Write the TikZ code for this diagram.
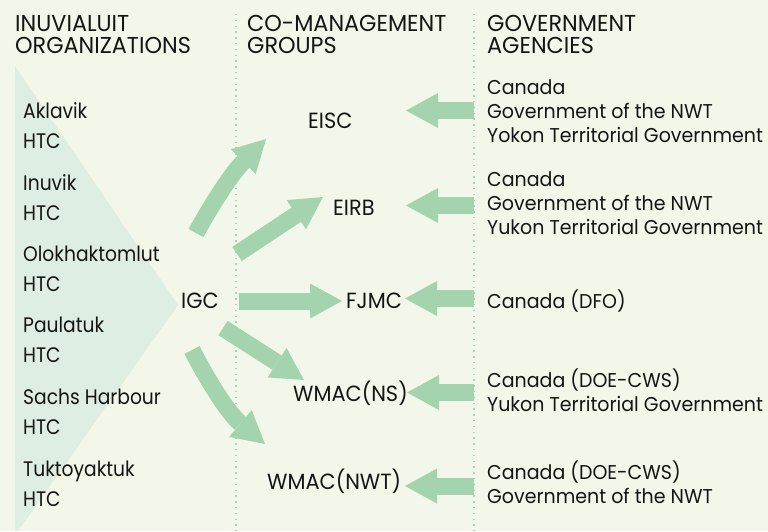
\documentclass[tikz,border=0pt]{standalone}
\usepackage{fontspec}
\setmainfont{Poppins}
\newfontfamily\hdfont[FakeStretch=0.97]{Poppins}
\newfontfamily\orgfont[FakeStretch=0.89]{Poppins}
\newfontfamily\grpfont[FakeStretch=0.95]{Poppins}
\newfontfamily\agyfont[FakeStretch=0.95]{Poppins}
\usetikzlibrary{arrows.meta}
\definecolor{bg}{HTML}{F3F7EA}
\definecolor{tri}{HTML}{DFEEE2}
\definecolor{arr}{HTML}{A3D4AF}
\definecolor{dotc}{HTML}{A8D5B5}
\definecolor{ink}{HTML}{151515}
\begin{document}
\begin{tikzpicture}[x=1pt,y=-1pt,
  hd/.style={font=\hdfont\fontsize{23}{21.5}\selectfont, anchor=base west, align=left, inner sep=0pt, text=ink},
  org/.style={font=\orgfont\fontsize{21}{30}\selectfont, anchor=base west, align=left, inner sep=0pt, text=ink},
  grp/.style={font=\grpfont\fontsize{22}{24}\selectfont, anchor=base west, align=left, inner sep=0pt, text=ink},
  agy/.style={font=\agyfont\fontsize{20}{24}\selectfont, anchor=base west, align=left, inner sep=0pt, text=ink},
  bigarrow/.style={draw=arr, line width=17pt, -{Triangle[width=35pt,length=32pt,line width=0pt]}},
  sep/.style={draw=dotc, line width=1.3pt, dash pattern=on 1.3pt off 4.5pt}
]
\useasboundingbox (0,0) rectangle (768,531);
\fill[bg] (0,0) rectangle (768,531);
% triangle
\fill[tri] (15,66) -- (178,305) -- (18,531) -- (15,531) -- cycle;
% separators
\coordinate (s1t) at (236,14); \coordinate (s1b) at (236,531);
\coordinate (s2t) at (474,14); \coordinate (s2b) at (474,531);
\draw[sep] (s1t) -- (s1b);
\draw[sep] (s2t) -- (s2b);
% headers (anchor = baseline of the last line)
\node[hd] (h1) at (15,53) {INUVIALUIT\\ORGANIZATIONS};
\node[hd] (h2) at (247,53) {CO-MANAGEMENT\\GROUPS};
\node[hd] (h3) at (487,53) {GOVERNMENT\\AGENCIES};
% organizations
\node[org] (o1) at (23,148) {Aklavik\\HTC};
\node[org] (o2) at (23,220) {Inuvik\\HTC};
\node[org] (o3) at (23,291) {Olokhaktomlut\\HTC};
\node[org] (o4) at (23,362) {Paulatuk\\HTC};
\node[org] (o5) at (23,434) {Sachs Harbour\\HTC};
\node[org] (o6) at (23,506) {Tuktoyaktuk\\HTC};
\node[grp] (igc) at (181,308) {IGC};
% co-management
\node[grp] (eisc) at (308,128) {EISC};
\node[grp] (eirb) at (333,215) {EIRB};
\node[grp] (fjmc) at (346,308) {FJMC};
\node[grp] (wns) at (293,401) {WMAC(NS)};
\node[grp] (wnwt) at (267,489) {WMAC(NWT)};
% agencies
\node[agy] (g1) at (487,142) {Canada\\Government of the NWT\\Yokon Territorial Government};
\node[agy] (g2) at (487,234) {Canada\\Government of the NWT\\Yukon Territorial Government};
\node[agy] (g3) at (487,308) {Canada (DFO)};
\node[agy] (g4) at (487,411) {Canada (DOE-CWS)\\Yukon Territorial Government};
\node[agy] (g5) at (487,503) {Canada (DOE-CWS)\\Government of the NWT};
% arrows from IGC
\coordinate (a1s) at (196,233); \coordinate (a1e) at (266,139);
\coordinate (a2s) at (237,254); \coordinate (a2e) at (323,197);
\coordinate (a3s) at (239,301); \coordinate (a3e) at (342,301);
\coordinate (a4s) at (223,328); \coordinate (a4e) at (304,380);
\coordinate (a5s) at (192,350); \coordinate (a5e) at (265,444);
\draw[bigarrow] (a1s) .. controls (208,211) and (230,175) .. (a1e);
\draw[bigarrow] (a2s) -- (a2e);
\draw[bigarrow] (a3s) -- (a3e);
\draw[bigarrow] (a4s) -- (a4e);
\draw[bigarrow] (a5s) .. controls (208,381) and (228,413) .. (a5e);
% arrows from agencies
\coordinate (b1s) at (474,110.5); \coordinate (b1e) at (406,110.5);
\coordinate (b2s) at (474,205.5); \coordinate (b2e) at (406,205.5);
\coordinate (b3s) at (474,298.5); \coordinate (b3e) at (405,298.5);
\coordinate (b4s) at (474,392.5); \coordinate (b4e) at (407,392.5);
\coordinate (b5s) at (474,486); \coordinate (b5e) at (405,486);
\draw[bigarrow] (b1s) -- (b1e);
\draw[bigarrow] (b2s) -- (b2e);
\draw[bigarrow] (b3s) -- (b3e);
\draw[bigarrow] (b4s) -- (b4e);
\draw[bigarrow] (b5s) -- (b5e);
\end{tikzpicture}
\end{document}
